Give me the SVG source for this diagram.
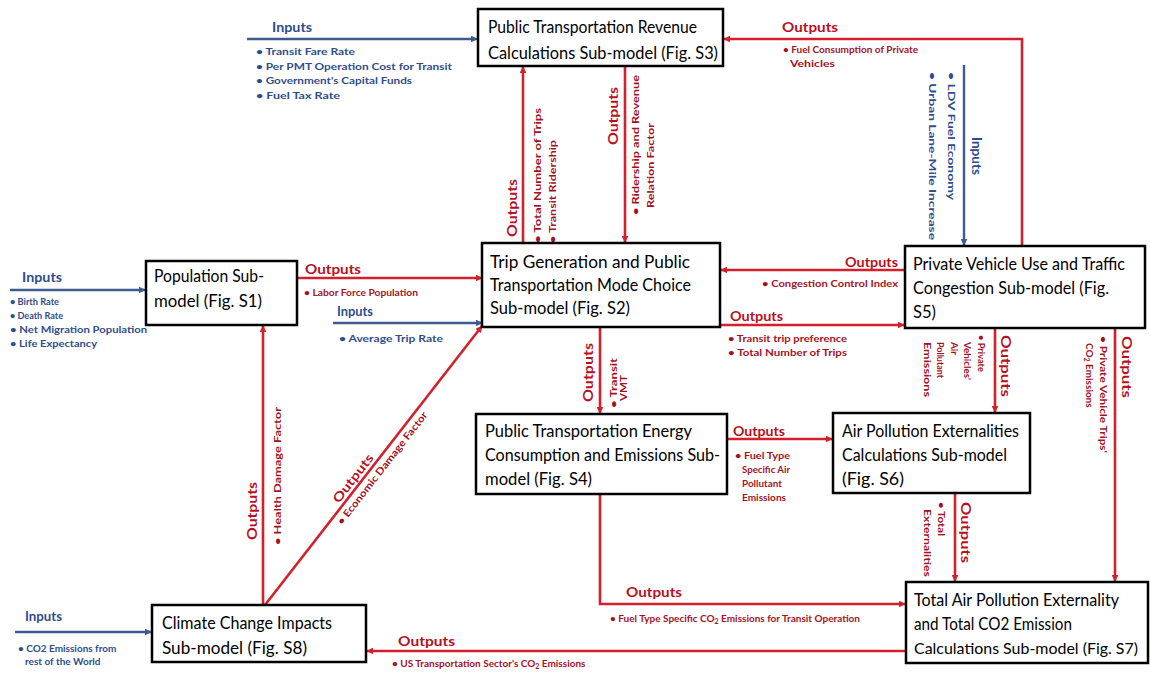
<svg xmlns="http://www.w3.org/2000/svg" width="1150" height="677" viewBox="0 0 1150 677">
<defs>
<style>
.box{fill:#fff;stroke:#000;stroke-width:2.5}
.bt{font-family:Lato,'Liberation Sans',sans-serif;font-size:17px;fill:#000}
.rl{fill:none;stroke:#d4202c;stroke-width:2.6}
.bl{fill:none;stroke:#3d5b8f;stroke-width:2.4}
.ro{font-family:Lato,'Liberation Sans',sans-serif;font-weight:bold;font-size:12.5px;fill:#b8101e}
.rt{font-family:Lato,'Liberation Sans',sans-serif;font-weight:bold;font-size:10px;fill:#a3121f}
.bo{font-family:Lato,'Liberation Sans',sans-serif;font-weight:bold;font-size:12.5px;fill:#2e4d8c}
.btx{font-family:Lato,'Liberation Sans',sans-serif;font-weight:bold;font-size:10px;fill:#2e4d8c}
</style>
<marker id="ar" viewBox="0 0 10 10" refX="9" refY="5" markerWidth="7" markerHeight="7" markerUnits="userSpaceOnUse" orient="auto"><path d="M0,0 L10,5 L0,10 z" fill="#d4202c"/></marker>
<marker id="ab" viewBox="0 0 10 10" refX="9" refY="5" markerWidth="7" markerHeight="7" markerUnits="userSpaceOnUse" orient="auto"><path d="M0,0 L10,5 L0,10 z" fill="#3d5b8f"/></marker>
</defs>
<rect width="1150" height="677" fill="#fff"/>

<g id="connectors">
<path class="bl" d="M247,39 H477" marker-end="url(#ab)"/>
<path class="rl" d="M1022,246 V39 H724" marker-end="url(#ar)"/>
<path class="bl" d="M964,65 V245" marker-end="url(#ab)"/>
<path class="rl" d="M523,243 V67" marker-end="url(#ar)"/>
<path class="rl" d="M625,66 V242" marker-end="url(#ar)"/>
<path class="bl" d="M10,290 H145" marker-end="url(#ab)"/>
<path class="rl" d="M297,278 H482" marker-end="url(#ar)"/>
<path class="bl" d="M333,323 H482" marker-end="url(#ab)"/>
<path class="rl" d="M905,270 H721" marker-end="url(#ar)"/>
<path class="rl" d="M720,325 H904" marker-end="url(#ar)"/>
<path class="rl" d="M600,327 V413" marker-end="url(#ar)"/>
<path class="rl" d="M727,439 H832" marker-end="url(#ar)"/>
<path class="rl" d="M995,328 V412" marker-end="url(#ar)"/>
<path class="rl" d="M1115,328 V581" marker-end="url(#ar)"/>
<path class="rl" d="M955,493 V581" marker-end="url(#ar)"/>
<path class="rl" d="M600,494 V604 H905" marker-end="url(#ar)"/>
<path class="rl" d="M906,651 H367" marker-end="url(#ar)"/>
<path class="rl" d="M263,605 V326" marker-end="url(#ar)"/>
<path class="rl" d="M265,605 L482,326" marker-end="url(#ar)"/>
<path class="bl" d="M15,632 H151" marker-end="url(#ab)"/>

<text class="bo" x="272" y="32" textLength="40" lengthAdjust="spacingAndGlyphs">Inputs</text>
<text class="btx" x="256" y="55" textLength="99" lengthAdjust="spacingAndGlyphs">• Transit Fare Rate</text>
<text class="btx" x="256" y="70" textLength="196" lengthAdjust="spacingAndGlyphs">• Per PMT Operation Cost for Transit</text>
<text class="btx" x="256" y="84" textLength="156" lengthAdjust="spacingAndGlyphs">• Government's Capital Funds</text>
<text class="btx" x="256" y="99" textLength="84" lengthAdjust="spacingAndGlyphs">• Fuel Tax Rate</text>

<text class="ro" x="782" y="32" textLength="56" lengthAdjust="spacingAndGlyphs">Outputs</text>
<text class="rt" x="783" y="53" textLength="135" lengthAdjust="spacingAndGlyphs">• Fuel Consumption of Private</text>
<text class="rt" x="790" y="67" textLength="45" lengthAdjust="spacingAndGlyphs">Vehicles</text>

<text class="bo" transform="translate(972,137) rotate(90)" textLength="38" lengthAdjust="spacingAndGlyphs">Inputs</text>
<text class="btx" transform="translate(948,72) rotate(90)" textLength="128" lengthAdjust="spacingAndGlyphs">• LDV Fuel Economy</text>
<text class="btx" transform="translate(929,72) rotate(90)" textLength="168" lengthAdjust="spacingAndGlyphs">• Urban Lane-Mile Increase</text>

<text class="ro" transform="translate(517,237) rotate(-90)" textLength="58" lengthAdjust="spacingAndGlyphs">Outputs</text>
<text class="rt" transform="translate(541,243) rotate(-90)" textLength="135" lengthAdjust="spacingAndGlyphs">• Total Number of Trips</text>
<text class="rt" transform="translate(556,243) rotate(-90)" textLength="103" lengthAdjust="spacingAndGlyphs">• Transit Ridership</text>

<text class="ro" transform="translate(618,145) rotate(-90)" textLength="58" lengthAdjust="spacingAndGlyphs">Outputs</text>
<text class="rt" transform="translate(639,215) rotate(-90)" textLength="140" lengthAdjust="spacingAndGlyphs">• Ridership and Revenue</text>
<text class="rt" transform="translate(654,208) rotate(-90)" textLength="85" lengthAdjust="spacingAndGlyphs">Relation Factor</text>

<text class="bo" x="22" y="282" textLength="40" lengthAdjust="spacingAndGlyphs">Inputs</text>
<text class="btx" x="10" y="305" textLength="49" lengthAdjust="spacingAndGlyphs">• Birth Rate</text>
<text class="btx" x="10" y="319" textLength="53" lengthAdjust="spacingAndGlyphs">• Death Rate</text>
<text class="btx" x="10" y="333" textLength="137" lengthAdjust="spacingAndGlyphs">• Net Migration Population</text>
<text class="btx" x="10" y="347" textLength="87" lengthAdjust="spacingAndGlyphs">• Life Expectancy</text>

<text class="ro" x="305" y="274" textLength="56" lengthAdjust="spacingAndGlyphs">Outputs</text>
<text class="rt" x="304" y="296" textLength="114" lengthAdjust="spacingAndGlyphs">• Labor Force Population</text>

<text class="bo" x="337" y="316" textLength="36" lengthAdjust="spacingAndGlyphs">Inputs</text>
<text class="btx" x="339" y="342" textLength="104" lengthAdjust="spacingAndGlyphs">• Average Trip Rate</text>

<text class="ro" x="845" y="267" textLength="53" lengthAdjust="spacingAndGlyphs">Outputs</text>
<text class="rt" x="762" y="287" textLength="136" lengthAdjust="spacingAndGlyphs">• Congestion Control Index</text>

<text class="ro" x="730" y="321" textLength="53" lengthAdjust="spacingAndGlyphs">Outputs</text>
<text class="rt" x="728" y="342" textLength="119" lengthAdjust="spacingAndGlyphs">• Transit trip preference</text>
<text class="rt" x="728" y="356" textLength="119" lengthAdjust="spacingAndGlyphs">• Total Number of Trips</text>

<text class="ro" transform="translate(593,402) rotate(-90)" textLength="59" lengthAdjust="spacingAndGlyphs">Outputs</text>
<text class="rt" transform="translate(617,408) rotate(-90)" textLength="50" lengthAdjust="spacingAndGlyphs">• Transit</text>
<text class="rt" transform="translate(627,401) rotate(-90)" textLength="26" lengthAdjust="spacingAndGlyphs">VMT</text>

<text class="ro" x="733" y="436" textLength="52" lengthAdjust="spacingAndGlyphs">Outputs</text>
<text class="rt" x="735" y="459" textLength="55" lengthAdjust="spacingAndGlyphs">• Fuel Type</text>
<text class="rt" x="742" y="473" textLength="48" lengthAdjust="spacingAndGlyphs">Specific Air</text>
<text class="rt" x="742" y="487" textLength="40" lengthAdjust="spacingAndGlyphs">Pollutant</text>
<text class="rt" x="742" y="501" textLength="44" lengthAdjust="spacingAndGlyphs">Emissions</text>

<text class="ro" transform="translate(1001,335) rotate(90)" textLength="62" lengthAdjust="spacingAndGlyphs">Outputs</text>
<text class="rt" transform="translate(977.5,335) rotate(90)" textLength="37" lengthAdjust="spacingAndGlyphs">• Private</text>
<text class="rt" transform="translate(964,342) rotate(90)" textLength="38" lengthAdjust="spacingAndGlyphs">Vehicles'</text>
<text class="rt" transform="translate(950.5,342) rotate(90)" textLength="13" lengthAdjust="spacingAndGlyphs">Air</text>
<text class="rt" transform="translate(937,342) rotate(90)" textLength="36" lengthAdjust="spacingAndGlyphs">Pollutant</text>
<text class="rt" transform="translate(923.5,342) rotate(90)" textLength="55" lengthAdjust="spacingAndGlyphs">Emissions</text>

<text class="ro" transform="translate(1122,336) rotate(90)" textLength="62" lengthAdjust="spacingAndGlyphs">Outputs</text>
<text class="rt" transform="translate(1100,336) rotate(90)" textLength="117" lengthAdjust="spacingAndGlyphs">• Private Vehicle Trips'</text>
<text class="rt" transform="translate(1086,343) rotate(90)">CO<tspan font-size="7" dy="2">2</tspan><tspan dy="-2"> Emissions</tspan></text>

<text class="ro" transform="translate(961,502) rotate(90)" textLength="61" lengthAdjust="spacingAndGlyphs">Outputs</text>
<text class="rt" transform="translate(938,502) rotate(90)" textLength="34" lengthAdjust="spacingAndGlyphs">• Total</text>
<text class="rt" transform="translate(924,509) rotate(90)" textLength="68" lengthAdjust="spacingAndGlyphs">Externalities</text>

<text class="ro" x="626" y="597" textLength="56" lengthAdjust="spacingAndGlyphs">Outputs</text>
<text class="rt" x="610" y="622">• Fuel Type Specific CO<tspan font-size="7" dy="2">2</tspan><tspan dy="-2"> Emissions for Transit Operation</tspan></text>

<text class="ro" x="398" y="646" textLength="57" lengthAdjust="spacingAndGlyphs">Outputs</text>
<text class="rt" x="392" y="667">• US Transportation Sector's CO<tspan font-size="7" dy="2">2</tspan><tspan dy="-2"> Emissions</tspan></text>

<text class="ro" transform="translate(257,540) rotate(-90)" textLength="58" lengthAdjust="spacingAndGlyphs">Outputs</text>
<text class="rt" transform="translate(281,545) rotate(-90)" textLength="138" lengthAdjust="spacingAndGlyphs">• Health Damage Factor</text>

<g transform="translate(265,605) rotate(-52.1)">
<text class="ro" x="125" y="-4" textLength="58" lengthAdjust="spacingAndGlyphs">Outputs</text>
<text class="rt" x="110" y="12" textLength="140" lengthAdjust="spacingAndGlyphs">• Economic Damage Factor</text>
</g>

<text class="bo" x="25" y="621" textLength="37" lengthAdjust="spacingAndGlyphs">Inputs</text>
<text class="btx" x="18" y="652">• CO2 Emissions from</text>
<text class="btx" x="25" y="665">rest of the World</text>
</g>

<g id="node-revenue">
<rect class="box" x="478" y="9" width="245" height="57"/>
<text class="bt" x="488" y="33" textLength="209" lengthAdjust="spacingAndGlyphs">Public Transportation Revenue</text>
<text class="bt" x="488" y="59" textLength="230" lengthAdjust="spacingAndGlyphs">Calculations Sub-model (Fig. S3)</text>
</g>
<g id="node-population">
<rect class="box" x="146" y="261" width="151" height="64"/>
<text class="bt" x="154" y="282" textLength="110" lengthAdjust="spacingAndGlyphs">Population Sub-</text>
<text class="bt" x="154" y="307" textLength="108" lengthAdjust="spacingAndGlyphs">model (Fig. S1)</text>
</g>
<g id="node-trip">
<rect class="box" x="482" y="243" width="238" height="84"/>
<text class="bt" x="490" y="268" textLength="200" lengthAdjust="spacingAndGlyphs">Trip Generation and Public</text>
<text class="bt" x="490" y="291" textLength="201" lengthAdjust="spacingAndGlyphs">Transportation Mode Choice</text>
<text class="bt" x="490" y="314" textLength="140" lengthAdjust="spacingAndGlyphs">Sub-model (Fig. S2)</text>
</g>
<g id="node-private">
<rect class="box" x="905" y="246" width="240" height="82"/>
<text class="bt" x="913" y="270" textLength="212" lengthAdjust="spacingAndGlyphs">Private Vehicle Use and Traffic</text>
<text class="bt" x="913" y="294" textLength="196" lengthAdjust="spacingAndGlyphs">Congestion Sub-model (Fig.</text>
<text class="bt" x="913" y="318" textLength="23" lengthAdjust="spacingAndGlyphs">S5)</text>
</g>
<g id="node-energy">
<rect class="box" x="476" y="414" width="251" height="80"/>
<text class="bt" x="485" y="437" textLength="207" lengthAdjust="spacingAndGlyphs">Public Transportation Energy</text>
<text class="bt" x="485" y="461" textLength="235" lengthAdjust="spacingAndGlyphs">Consumption and Emissions Sub-</text>
<text class="bt" x="485" y="485" textLength="107" lengthAdjust="spacingAndGlyphs">model (Fig. S4)</text>
</g>
<g id="node-air">
<rect class="box" x="833" y="413" width="197" height="80"/>
<text class="bt" x="842" y="437" textLength="177" lengthAdjust="spacingAndGlyphs">Air Pollution Externalities</text>
<text class="bt" x="842" y="461" textLength="165" lengthAdjust="spacingAndGlyphs">Calculations Sub-model</text>
<text class="bt" x="842" y="485" textLength="62" lengthAdjust="spacingAndGlyphs">(Fig. S6)</text>
</g>
<g id="node-total">
<rect class="box" x="906" y="582" width="242" height="81"/>
<text class="bt" x="914" y="606" textLength="205" lengthAdjust="spacingAndGlyphs">Total Air Pollution  Externality</text>
<text class="bt" x="914" y="630" textLength="158" lengthAdjust="spacingAndGlyphs">and Total CO2 Emission</text>
<text class="bt" x="914" y="654" font-size="16" style="font-size:16px" textLength="224" lengthAdjust="spacingAndGlyphs">Calculations Sub-model (Fig. S7)</text>
</g>
<g id="node-climate">
<rect class="box" x="152" y="605" width="214" height="57"/>
<text class="bt" x="162" y="629" textLength="170" lengthAdjust="spacingAndGlyphs">Climate Change Impacts</text>
<text class="bt" x="162" y="654" textLength="145" lengthAdjust="spacingAndGlyphs">Sub-model (Fig. S8)</text>
</g>
</svg>
